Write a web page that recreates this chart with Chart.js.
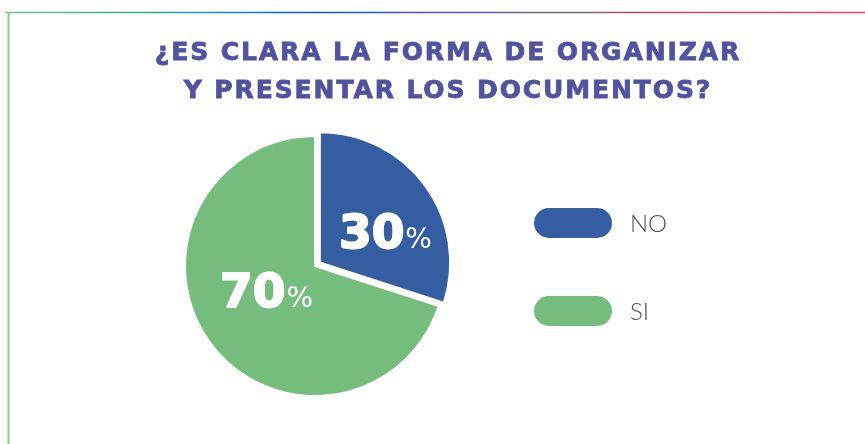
<!DOCTYPE html>
<html>
<head>
<meta charset="utf-8">
<script src="https://cdn.jsdelivr.net/npm/chart.js@4"></script>
<style>
    html, body { margin: 0; padding: 0; background: #fff; }
</style>
</head>
<body>
<canvas id="pieChart" width="865" height="444"></canvas>
<script>
const categorias = ["NO", "SI"];
const porcentajes = [30, 70];
const tituloLineas = ["¿ES CLARA LA FORMA DE ORGANIZAR", "Y PRESENTAR LOS DOCUMENTOS?"];

const colores = ["#355ea2", "#74bd7c"];
const colorTitulo = "#5152a0";

// marco fino con degradado arriba y linea verde a la izquierda
const marco = {
    id: "marco",
    beforeDraw(chart) {
        const ctx = chart.ctx;
        const w = chart.width;
        ctx.save();
        const grad = ctx.createLinearGradient(5, 0, w, 0);
        grad.addColorStop(0, "#6fc37a");
        grad.addColorStop(0.22, "#1d9bb6");
        grad.addColorStop(0.36, "#0a5aa8");
        grad.addColorStop(0.62, "#7a5c98");
        grad.addColorStop(1, "#ee4452");
        ctx.strokeStyle = grad;
        ctx.lineWidth = 1.5;
        ctx.beginPath();
        ctx.moveTo(5, 12.5);
        ctx.lineTo(w, 12.5);
        ctx.stroke();
        ctx.strokeStyle = "#86cd8e";
        ctx.lineWidth = 2;
        ctx.beginPath();
        ctx.moveTo(8.5, 12);
        ctx.lineTo(8.5, chart.height);
        ctx.stroke();
        ctx.restore();
    },
};

const titulo = {
    id: "titulo",
    afterDraw(chart) {
        const ctx = chart.ctx;
        ctx.save();
        ctx.fillStyle = colorTitulo;
        ctx.strokeStyle = colorTitulo;
        ctx.lineWidth = 0.8;
        ctx.font = "bold 25px 'DejaVu Sans'";
        ctx.letterSpacing = "1.9px";
        ctx.textAlign = "center";
        ctx.textBaseline = "alphabetic";
        tituloLineas.forEach((linea, i) => {
            ctx.fillText(linea, 448, 60 + i * 38);
            ctx.strokeText(linea, 448, 60 + i * 38);
        });
        ctx.restore();
    },
};

// etiquetas de porcentaje dentro de cada porcion
const etiquetas = {
    id: "etiquetas",
    afterDatasetsDraw(chart, args, opts) {
        const ctx = chart.ctx;
        const meta = chart.getDatasetMeta(0);
        ctx.save();
        ctx.fillStyle = "#fff";
        ctx.strokeStyle = "#fff";
        ctx.lineJoin = "round";
        ctx.textBaseline = "alphabetic";
        ctx.textAlign = "left";
        meta.data.forEach((arc, i) => {
            const p = arc.getProps(["x", "y", "startAngle", "endAngle", "outerRadius"], true);
            const ang = (p.startAngle + p.endAngle) / 2 + opts.giro;
            const r = p.outerRadius * opts.radios[i];
            const cx = p.x + Math.cos(ang) * r;
            const cy = p.y + Math.sin(ang) * r;
            const num = String(chart.data.datasets[0].data[i]);
            ctx.font = "bold 47px 'DejaVu Sans'";
            const wNum = ctx.measureText(num).width;
            ctx.font = "28px 'DejaVu Sans'";
            const wPct = ctx.measureText("%").width;
            const x0 = cx - (wNum + wPct) / 2;
            const base = cy + 17;
            ctx.font = "bold 47px 'DejaVu Sans'";
            ctx.lineWidth = 2;
            ctx.fillText(num, x0, base);
            ctx.strokeText(num, x0, base);
            ctx.font = "28px 'DejaVu Sans'";
            ctx.fillText("%", x0 + wNum + 1, base);
        });
        ctx.restore();
    },
};

// leyenda con marcas en forma de pastilla
const leyenda = {
    id: "leyenda",
    afterDraw(chart) {
        const ctx = chart.ctx;
        const ds = chart.data.datasets[0];
        ctx.save();
        chart.data.labels.forEach((lab, i) => {
            const y = 223 + i * 88;
            ctx.fillStyle = ds.backgroundColor[i];
            ctx.beginPath();
            ctx.roundRect(534, y - 15, 78, 30, 15);
            ctx.fill();
            ctx.fillStyle = "#4e4e4e";
            ctx.font = "300 24px Lato";
            ctx.textBaseline = "middle";
            ctx.textAlign = "left";
            ctx.fillText(lab, 630, y + 1);
        });
        ctx.restore();
    },
};

const ctx = document.getElementById("pieChart").getContext("2d");

new Chart(ctx, {
    type: "pie",
    data: {
        labels: categorias,
        datasets: [
            {
                data: porcentajes,
                backgroundColor: colores,
                borderColor: "#fff",
                borderWidth: 2,
                offset: [24, 0],
                hoverOffset: 0,
            },
        ],
    },
    options: {
        responsive: false,
        animation: false,
        radius: 130,
        layout: {
            padding: { left: 150, right: 385, top: 118, bottom: 30 },
        },
        plugins: {
            legend: { display: false },
            title: { display: false },
            tooltip: { enabled: false },
            etiquetas: { giro: 0.17, radios: [0.6, 0.42] },
        },
    },
    plugins: [marco, titulo, etiquetas, leyenda],
});
</script>
</body>
</html>
